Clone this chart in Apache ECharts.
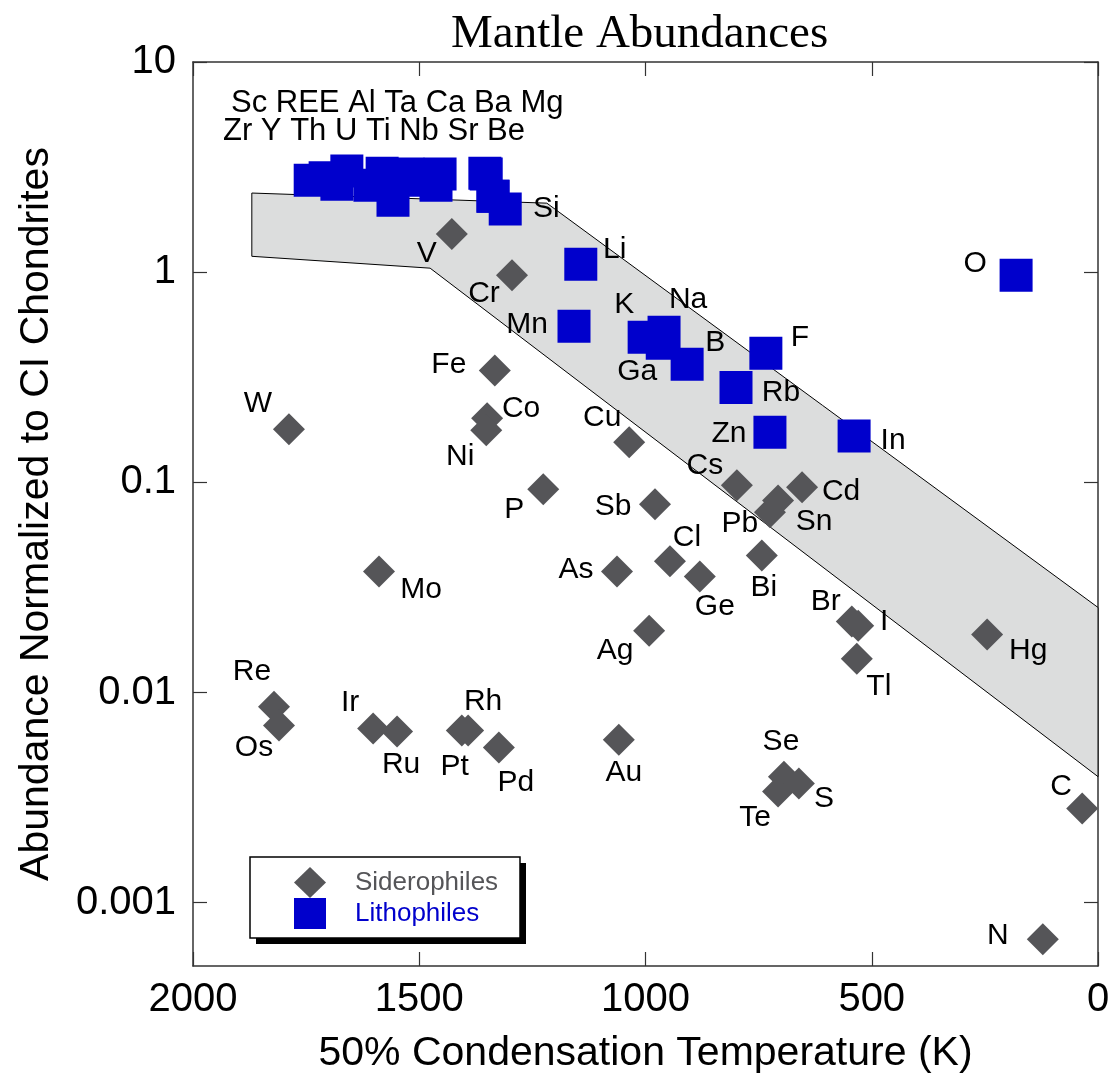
<!DOCTYPE html>
<html>
<head>
<meta charset="utf-8">
<script src="https://cdn.jsdelivr.net/npm/echarts@6/dist/echarts.min.js"></script>
<style>
  html, body { margin: 0; padding: 0; background: #ffffff; }
  #chart { width: 1110px; height: 1075px; }
</style>
</head>
<body>
<div id="chart"></div>
<script>
// Siderophile elements: 50% condensation temperature (K) and CI-normalised mantle abundance
const siderophileNames = ['V', 'Cr', 'Fe', 'W', 'Co', 'Ni', 'P', 'Cu', 'Cs', 'Cd', 'Sb', 'Sn', 'Pb', 'Cl', 'As', 'Ge', 'Bi', 'Ag', 'Br', 'I', 'Tl', 'Hg', 'Au', 'Se', 'Te', 'S', 'C', 'N', 'Mo', 'Re', 'Os', 'Ir', 'Ru', 'Pt', 'Rh', 'Pd'];
const siderophileTemps = [1428, 1295, 1333, 1788, 1350, 1352, 1226, 1036, 798, 654, 979, 707, 725, 946, 1063, 880, 743, 992, 544, 530, 533, 245, 1059, 694, 707, 661, 35, 122, 1589, 1821, 1810, 1602, 1549, 1406, 1392, 1324];
const siderophileAbund = [1.52, 0.968, 0.341, 0.179, 0.202, 0.177, 0.0927, 0.155, 0.0968, 0.0947, 0.0786, 0.082, 0.072, 0.0421, 0.0377, 0.0357, 0.0449, 0.0197, 0.0218, 0.0208, 0.0145, 0.0189, 0.00597, 0.00398, 0.00338, 0.00369, 0.00281, 0.00067, 0.0377, 0.00857, 0.00697, 0.00674, 0.00652, 0.00659, 0.00659, 0.00547];

// Lithophile elements
const lithophileNames = ['Sc', 'Zr', 'Y', 'REE', 'Th', 'Al', 'U', 'Ta', 'Ti', 'Nb', 'Ca', 'Sr', 'Ba', 'Mg', 'Be', 'Si', 'Li', 'Mn', 'K', 'Na', 'Ga', 'B', 'F', 'Rb', 'Zn', 'In', 'O'];
const lithophileTemps = [1741, 1708, 1682, 1660, 1609, 1582, 1558, 1525, 1498, 1463, 1454, 1355, 1352, 1337, 1337, 1310, 1143, 1158, 1003, 959, 963, 908, 734, 800, 725, 539, 181];
const lithophileAbund = [2.74, 2.81, 2.62, 3.03, 2.59, 2.96, 2.20, 2.93, 2.74, 2.59, 2.93, 2.96, 2.93, 2.30, 2.30, 2.0, 1.09, 0.553, 0.49, 0.518, 0.459, 0.365, 0.411, 0.283, 0.173, 0.166, 0.968];

// Refractory lithophiles named as a group above the cluster
const refractoryRow1 = 'Sc REE Al Ta Ca Ba Mg';
const refractoryRow2 = 'Zr Y Th U Ti Nb Sr Be';

// Shaded band outline (temperature K, abundance)
const bandTemps = [1870, 1218, 0, 0, 1476, 1870];
const bandAbund = [2.38, 2.13, 0.0254, 0.00398, 1.045, 1.19];

// Axes
const xMin = 0, xMax = 2000, xStep = 500;
const yTickValues = [0.001, 0.01, 0.1, 1, 10];
const yTickLabels = ['0.001', '0.01', '0.1', '1', '10'];
const yLow = 0.0005, yHigh = 10;

// Label placement around each marker (pixel offset from the marker centre)
const labelOffsets = {
  V: [-25, 20], Cr: [-28, 19], Fe: [-46, -6], W: [-31, -25], Co: [34, -9], Ni: [-26, 26],
  P: [-29, 20], Cu: [-27, -25], Cs: [-32, -20], Cd: [39, 4], Sb: [-42, 2], Sn: [36, 21],
  Pb: [-30, 11], Cl: [17, -24], As: [-41, -2], Ge: [15, 30], Bi: [2, 32], Ag: [-34, 20],
  Br: [-26, -20], I: [26, -4], Tl: [22, 28], Hg: [41, 16], Au: [5, 33], Se: [-3, -35],
  Te: [-23, 26], S: [25, 15], C: [-21, -22], N: [-45, -4], Mo: [42, 18], Re: [-22, -35],
  Os: [-25, 22], Ir: [-23, -26], Ru: [4, 33], Pt: [-7, 36], Rh: [15, -29], Pd: [17, 35],
  Si: [41, 0], Li: [34, -15], Mn: [-47, -2], K: [-20, -33], Na: [24, -32], Ga: [-25, 28],
  B: [28, -21], F: [34, -16], Rb: [45, 5], Zn: [-41, 1], In: [39, 5], O: [-41, -11]
};

const lg = Math.log10;
const FONT = "'Liberation Sans', Arial, Helvetica, sans-serif";
const SIDERO_COLOR = '#555558';
const LITHO_COLOR = '#0000cc';
const FRAME = '#333333';

function buildPoints(names, temps, abund) {
  return names.map((n, i) => {
    const off = labelOffsets[n];
    return {
      name: n,
      value: [temps[i], lg(abund[i])],
      label: off ? { show: true, offset: off } : { show: false }
    };
  });
}

const pointLabel = {
  show: true,
  position: 'inside',
  formatter: '{b}',
  color: '#000',
  fontSize: 30,
  fontFamily: FONT,
  textBorderWidth: 0,
  align: 'center',
  verticalAlign: 'middle'
};

const yCustom = yTickValues.map(v => lg(v));

const frameLine = { show: true, onZero: false, lineStyle: { color: FRAME, width: 1.5 } };
const innerTick = { show: true, inside: true, length: 14, lineStyle: { color: FRAME, width: 1.2 } };

const chart = echarts.init(document.getElementById('chart'), null, { renderer: 'canvas' });

chart.setOption({
  animation: false,
  backgroundColor: '#ffffff',
  title: {
    text: 'Mantle Abundances',
    left: 446,
    top: 6,
    textStyle: { fontFamily: "'Liberation Serif', 'Times New Roman', serif", fontSize: 47, fontWeight: 'normal', color: '#000' }
  },
  grid: { left: 193, right: 12, top: 62, bottom: 109, containLabel: false, outerBoundsMode: 'none' },
  xAxis: [
    {
      type: 'value', min: xMin, max: xMax, interval: xStep, inverse: true, position: 'bottom',
      name: '50% Condensation Temperature (K)', nameLocation: 'middle', nameGap: 67,
      nameTextStyle: { fontFamily: FONT, fontSize: 41, color: '#000' },
      axisLine: frameLine,
      axisTick: innerTick,
      axisLabel: { fontFamily: FONT, fontSize: 40, color: '#000', margin: 14, formatter: v => String(v) },
      splitLine: { show: false }
    },
    {
      type: 'value', min: xMin, max: xMax, interval: xStep, inverse: true, position: 'top',
      axisLine: frameLine,
      axisTick: innerTick,
      axisLabel: { show: false },
      splitLine: { show: false }
    }
  ],
  yAxis: [
    {
      type: 'value', min: lg(yLow), max: lg(yHigh), position: 'left',
      name: 'Abundance Normalized to CI Chondrites', nameLocation: 'middle', nameGap: 136,
      nameTextStyle: { fontFamily: FONT, fontSize: 41, color: '#000' },
      axisLine: frameLine,
      axisTick: Object.assign({ customValues: yCustom }, innerTick),
      axisLabel: {
        fontFamily: FONT, fontSize: 40, color: '#000', margin: 17,
        customValues: yCustom,
        formatter: v => yTickLabels[Math.round(v) + 3]
      },
      splitLine: { show: false }
    },
    {
      type: 'value', min: lg(yLow), max: lg(yHigh), position: 'right',
      axisLine: frameLine,
      axisTick: Object.assign({ customValues: yCustom }, innerTick),
      axisLabel: { show: false },
      splitLine: { show: false }
    }
  ],
  legend: {
    data: [
      { name: 'Siderophiles', textStyle: { color: SIDERO_COLOR } },
      { name: 'Lithophiles', textStyle: { color: LITHO_COLOR } }
    ],
    orient: 'vertical',
    left: 250,
    top: 857,
    z: 10,
    itemWidth: 32,
    itemHeight: 31,
    itemGap: 0,
    selectedMode: false,
    padding: [10, 18, 10, 44],
    textStyle: { fontFamily: FONT, fontSize: 26, padding: [0, 0, 0, 24] }
  },
  graphic: [
    { type: 'text', left: 231, top: 88, style: { text: refractoryRow1, font: "31px 'Liberation Sans', Arial, sans-serif", fill: '#000' } },
    { type: 'text', left: 223, top: 116, style: { text: refractoryRow2, font: "31px 'Liberation Sans', Arial, sans-serif", fill: '#000' } },
    // legend frame with a solid drop shadow
    { type: 'rect', z: 5, silent: true, shape: { x: 256, y: 863, width: 270, height: 81 }, style: { fill: '#000' } },
    { type: 'rect', z: 6, silent: true, shape: { x: 250, y: 857, width: 270, height: 81 }, style: { fill: '#fff', stroke: '#000', lineWidth: 1.5 } }
  ],
  series: [
    {
      type: 'custom',
      name: 'band',
      silent: true,
      z: 1,
      data: bandTemps.map((t, i) => [t, lg(bandAbund[i])]),
      renderItem: (params, api) => {
        if (params.dataIndex !== 0) return null;
        const pts = bandTemps.map((t, i) => api.coord([t, lg(bandAbund[i])]));
        return {
          type: 'polygon',
          shape: { points: pts },
          style: { fill: '#dcdddd', stroke: '#000000', lineWidth: 1 }
        };
      }
    },
    {
      type: 'scatter',
      name: 'Lithophiles',
      z: 3,
      symbol: 'rect',
      symbolSize: 33,
      itemStyle: { color: LITHO_COLOR, opacity: 1 },
      label: pointLabel,
      emphasis: { disabled: true },
      data: buildPoints(lithophileNames, lithophileTemps, lithophileAbund)
    },
    {
      type: 'scatter',
      name: 'Siderophiles',
      z: 4,
      symbol: 'diamond',
      symbolSize: 32,
      itemStyle: { color: SIDERO_COLOR, opacity: 1 },
      label: pointLabel,
      emphasis: { disabled: true },
      data: buildPoints(siderophileNames, siderophileTemps, siderophileAbund)
    }
  ]
});
</script>
</body>
</html>
